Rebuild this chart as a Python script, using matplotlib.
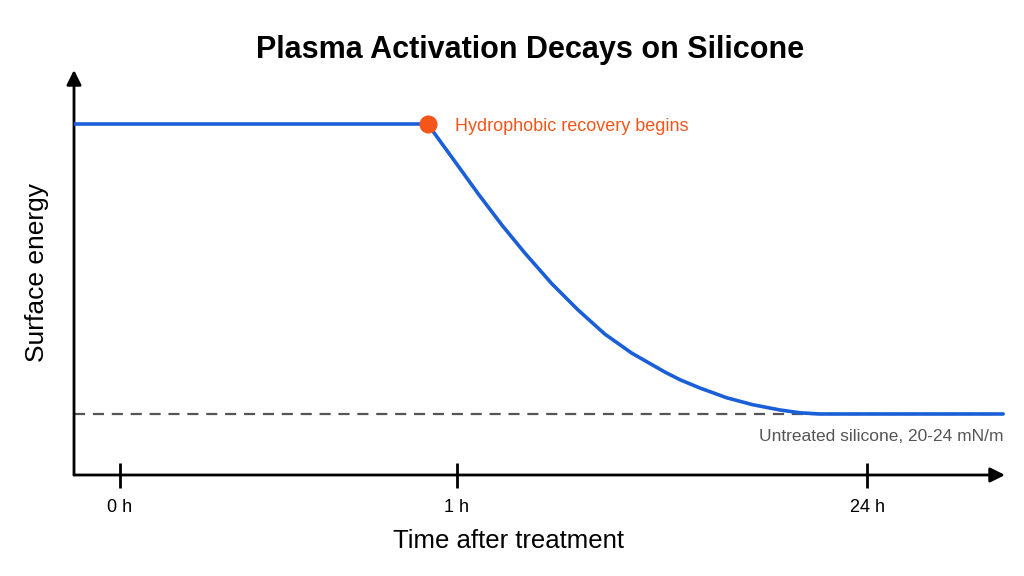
import matplotlib.pyplot as plt

plt.rcParams['font.family'] = ['Liberation Sans', 'DejaVu Sans']

# curve position along the (non-linear) time axis, 0-100, and surface energy in mN/m
time_pos = [0.0, 38.0, 38.8, 41.2, 43.4, 46.0, 48.4, 51.3, 54.1, 57.0, 59.9,
            63.5, 65.1, 67.2, 70.1, 72.9, 75.8, 78.0, 80.1, 99.8]
energy = [72.0, 72.0, 70.2, 64.9, 60.0, 54.5, 49.8, 44.5, 40.0, 35.8, 32.5,
          29.2, 27.9, 26.5, 24.8, 23.6, 22.7, 22.2, 22.0, 22.0]

recovery_pos = 38.0
recovery_energy = 72.0
baseline_energy = 22.0

tick_pos = [4.9, 41.1, 85.2]
tick_labels = ['0 h', '1 h', '24 h']

fig = plt.figure(figsize=(10.24, 5.76), dpi=100)
ax = fig.add_axes([74 / 1024, 101 / 576, 931 / 1024, 405 / 576])
ax.set_xlim(0, 100)
ax.set_ylim(11.48, 81.31)

for s in ax.spines.values():
    s.set_visible(False)

# axes with arrow heads
ax.annotate('', xy=(1.0, 0), xytext=(0, 0), xycoords='axes fraction',
            arrowprops=dict(arrowstyle='-|>', lw=2, color='black', mutation_scale=22,
                            shrinkA=0, shrinkB=0))
ax.annotate('', xy=(0, 1.0), xytext=(0, 0), xycoords='axes fraction',
            arrowprops=dict(arrowstyle='-|>', lw=2, color='black', mutation_scale=22,
                            shrinkA=0, shrinkB=0))

ax.plot([0, 99.8], [baseline_energy, baseline_energy], color='#555555', lw=1.6,
        dashes=(5, 3.5), zorder=2)
ax.plot(time_pos, energy, color='#1a5fd8', lw=2.6, solid_joinstyle='round',
        solid_capstyle='round', zorder=3)
ax.plot([recovery_pos], [recovery_energy], 'o', color='#f4561a', markersize=12, zorder=4)

ax.text(recovery_pos + 2.9, recovery_energy - 0.5, 'Hydrophobic recovery begins',
        color='#f4561a', fontsize=13, va='center', ha='left')
ax.text(99.8, baseline_energy - 3.9, 'Untreated silicone, 20-24 mN/m',
        color='#555555', fontsize=12.5, va='center', ha='right')

ax.set_xticks(tick_pos)
ax.set_xticklabels(tick_labels, fontsize=13)
ax.set_yticks([])
ax.tick_params(axis='x', direction='inout', length=18, width=2, pad=8)

ax.set_ylabel('Surface energy', fontsize=19, labelpad=18)
fig.text(0.497, 0.06, 'Time after treatment', fontsize=18.5, ha='center', va='center')

fig.suptitle('Plasma Activation Decays on Silicone', fontsize=22, fontweight='bold',
             x=0.518, y=0.94)

fig.savefig('out.png', dpi=100)
